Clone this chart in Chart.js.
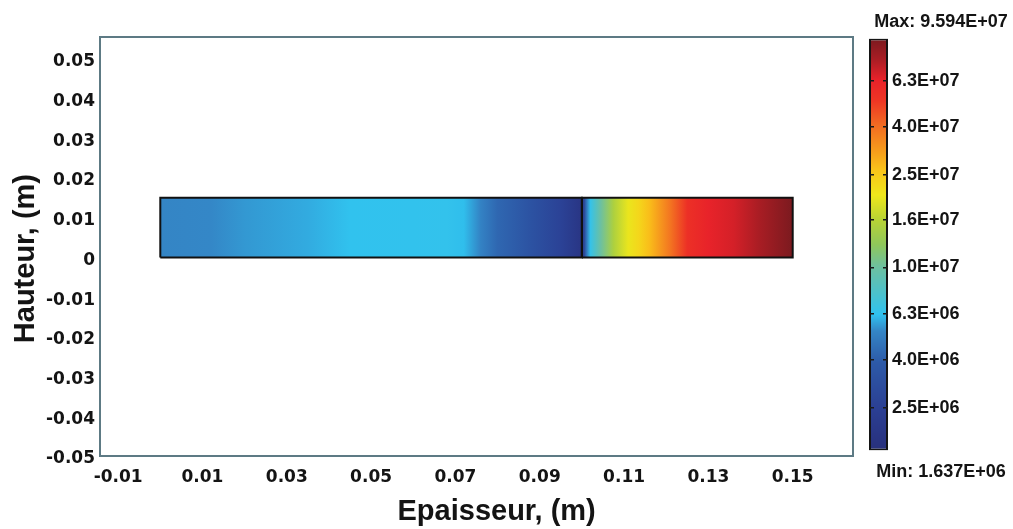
<!DOCTYPE html>
<html>
<head>
<meta charset="utf-8">
<script src="https://cdn.jsdelivr.net/npm/chart.js@4.4.1/dist/chart.umd.min.js"></script>
<style>
  html, body { margin: 0; padding: 0; background: #ffffff; }
  #wrap { position: relative; width: 1013px; height: 529px; }
  #fieldBox { position: absolute; left: 0; top: 0; }
  #scaleBox { position: absolute; left: 861px; top: 0; }
</style>
</head>
<body>
<div id="wrap">
  <div id="fieldBox"><canvas id="fieldChart" width="1013" height="529"></canvas></div>
  <div id="scaleBox"><canvas id="scaleChart" width="152" height="529"></canvas></div>
</div>
<script>
// ─── Données ─────────────────────────────────────────────────────────────────

const xTicks = [-0.01, 0.01, 0.03, 0.05, 0.07, 0.09, 0.11, 0.13, 0.15];
const yTicks = [-0.05, -0.04, -0.03, -0.02, -0.01, 0, 0.01, 0.02, 0.03, 0.04, 0.05];
const xRange = [-0.0143, 0.1643];
const yRange = [-0.05, 0.0555];

// deux couches : 0 → 0.1 m et 0.1 → 0.15 m, hauteur 0.015 m
const layerBounds = [0, 0.1, 0.15];
const layerHeight = 0.015;

// valeurs du champ lues le long de l'épaisseur
const layer1X = [0, 0.012, 0.02, 0.035, 0.045, 0.06, 0.068, 0.072, 0.076, 0.08, 0.088, 0.095, 0.1];
const layer1V = [5.3e6, 5.35e6, 5.6e6, 5.9e6, 6.3e6, 6.35e6, 6.4e6, 6.2e6, 5.2e6, 4.3e6, 3.4e6, 2.6e6, 1.9e6];
const layer2X = [0.1, 0.1006, 0.1012, 0.102, 0.1045, 0.1075, 0.111, 0.1135, 0.116, 0.121, 0.125, 0.13, 0.136, 0.142, 0.15];
const layer2V = [1.9e6, 3.0e6, 5.0e6, 6.5e6, 1.0e7, 1.5e7, 2.0e7, 2.3e7, 2.7e7, 3.9e7, 5.5e7, 6.3e7, 6.8e7, 7.8e7, 9.594e7];

// échelle de couleur (logarithmique)
const scaleTicks = [2.5e6, 4.0e6, 6.3e6, 1.0e7, 1.6e7, 2.5e7, 4.0e7, 6.3e7];
const scaleMin = 1.637e6;
const scaleMax = 9.594e7;

// ─── Styles ──────────────────────────────────────────────────────────────────

const CMAP = [
  [0,     '#28307c'], [0.1,  '#2b3f93'], [0.214, '#2d5aa8'], [0.29, '#3486c6'],
  [0.33,  '#30c2ef'], [0.445,'#6dc0a0'], [0.5,   '#8fc75a'], [0.56, '#b8d335'],
  [0.62,  '#efe71b'], [0.68, '#f9c41a'], [0.72,  '#f7a21b'], [0.79, '#f26b22'],
  [0.85,  '#ee3524'], [0.9,  '#e8222a'], [0.95,  '#a81d24'], [1,    '#7b1a1f'],
];
const AXIS_COLOR = '#5d7a84';
const TEXT_COLOR = '#141414';
const TICK_FONT  = { family: 'DejaVu Sans', size: 17, weight: 'bold' };
const TITLE_FONT = { family: 'Liberation Sans', size: 29, weight: 'bold' };
const SCALE_FONT = { family: 'Liberation Sans', size: 18, weight: 'bold' };

// ─── Helpers ─────────────────────────────────────────────────────────────────

function hexRgb(h) {
  const n = parseInt(h.slice(1), 16);
  return [(n >> 16) & 255, (n >> 8) & 255, n & 255];
}

function cmapColor(t) {
  t = Math.max(0, Math.min(1, t));
  for (let i = 1; i < CMAP.length; i++) {
    if (t <= CMAP[i][0]) {
      const [t0, c0] = CMAP[i - 1], [t1, c1] = CMAP[i];
      const f = (t - t0) / (t1 - t0);
      const a = hexRgb(c0), b = hexRgb(c1);
      const rgb = a.map((v, k) => Math.round(v + (b[k] - v) * f));
      return `rgb(${rgb.join(',')})`;
    }
  }
  return CMAP[CMAP.length - 1][1];
}

function valueToT(v) {
  const lo = Math.log10(scaleMin), hi = Math.log10(scaleMax);
  return (Math.log10(v) - lo) / (hi - lo);
}

function fmtE(v, d) {
  const [m, e] = v.toExponential(d).split('e');
  const n = parseInt(e, 10);
  return m + 'E' + (n < 0 ? '-' : '+') + String(Math.abs(n)).padStart(2, '0');
}

function layerFill(xs, vs) {
  return ctx => {
    const chart = ctx.chart;
    if (!chart.chartArea) return 'rgba(0,0,0,0)';
    const sx = chart.scales.x;
    const a = xs[0], b = xs[xs.length - 1];
    const g = chart.ctx.createLinearGradient(sx.getPixelForValue(a), 0, sx.getPixelForValue(b), 0);
    xs.forEach((x, k) => g.addColorStop((x - a) / (b - a), cmapColor(valueToT(vs[k]))));
    return g;
  };
}

function scaleFill(ctx) {
  const chart = ctx.chart;
  if (!chart.chartArea) return '#888888';
  const sy = chart.scales.y;
  const g = chart.ctx.createLinearGradient(0, sy.getPixelForValue(scaleMin), 0, sy.getPixelForValue(scaleMax));
  CMAP.forEach(([t, c]) => g.addColorStop(t, c));
  return g;
}

function rectPoints(x0, x1) {
  return [
    { x: x0, y: 0 }, { x: x0, y: layerHeight }, { x: x1, y: layerHeight },
    { x: x1, y: 0 }, { x: x0, y: 0 },
  ];
}

// ─── Graphique principal ─────────────────────────────────────────────────────

const profiles = [[layer1X, layer1V], [layer2X, layer2V]];

const outlineSets = layerBounds.slice(0, -1).map((x0, i) => ({
  type: 'line',
  data: rectPoints(x0, layerBounds[i + 1]),
  borderColor: '#111111',
  borderWidth: 2,
  borderJoinStyle: 'miter',
  pointRadius: 0,
  fill: false,
  showLine: true,
}));

const fillSets = layerBounds.slice(0, -1).map((x0, i) => ({
  type: 'line',
  data: [{ x: x0, y: layerHeight }, { x: layerBounds[i + 1], y: layerHeight }],
  borderWidth: 0,
  pointRadius: 0,
  showLine: true,
  fill: { value: 0 },
  backgroundColor: layerFill(profiles[i][0], profiles[i][1]),
}));

new Chart(document.getElementById('fieldChart'), {
  type: 'scatter',
  data: { datasets: [...outlineSets, ...fillSets] },
  options: {
    responsive: false,
    animation: false,
    layout: { padding: { top: 37, right: 160, left: 0, bottom: 0 } },
    plugins: { legend: { display: false }, tooltip: { enabled: false } },
    scales: {
      x: {
        type: 'linear',
        position: 'bottom',
        min: xRange[0],
        max: xRange[1],
        afterBuildTicks: s => { s.ticks = xTicks.map(v => ({ value: v })); },
        afterFit: s => { s.height = 73; },
        ticks: {
          callback: v => v.toFixed(2),
          font: TICK_FONT,
          color: TEXT_COLOR,
          padding: 11,
          maxRotation: 0,
          autoSkip: false,
        },
        grid: { display: false, drawTicks: false },
        border: { display: true, color: AXIS_COLOR, width: 2 },
        title: {
          display: true,
          text: '     Epaisseur, (m)',
          font: TITLE_FONT,
          color: TEXT_COLOR,
          padding: 0,
        },
      },
      y: {
        type: 'linear',
        position: 'left',
        min: yRange[0],
        max: yRange[1],
        afterBuildTicks: s => { s.ticks = yTicks.map(v => ({ value: v })); },
        afterFit: s => { s.width = 100; },
        ticks: {
          callback: v => (v === 0 ? '0' : v.toFixed(2)),
          font: TICK_FONT,
          color: TEXT_COLOR,
          padding: 5,
          labelOffset: 3,
          autoSkip: false,
        },
        grid: { display: false, drawTicks: false },
        border: { display: true, color: AXIS_COLOR, width: 2 },
        title: {
          display: true,
          text: 'Hauteur, (m)   ',
          font: TITLE_FONT,
          color: TEXT_COLOR,
          padding: { top: 9, bottom: 0 },
        },
      },
      xTop: {
        type: 'linear',
        position: 'top',
        min: xRange[0],
        max: xRange[1],
        afterFit: s => { s.height = 0; },
        ticks: { display: false },
        grid: { display: false, drawTicks: false },
        border: { display: true, color: AXIS_COLOR, width: 2 },
      },
      yRight: {
        type: 'linear',
        position: 'right',
        min: yRange[0],
        max: yRange[1],
        afterFit: s => { s.width = 0; },
        ticks: { display: false },
        grid: { display: false, drawTicks: false },
        border: { display: true, color: AXIS_COLOR, width: 2 },
      },
    },
  },
});

// ─── Barre de couleur ────────────────────────────────────────────────────────

new Chart(document.getElementById('scaleChart'), {
  type: 'bar',
  data: {
    labels: ['champ'],
    datasets: [{
      data: [[scaleMin, scaleMax]],
      backgroundColor: scaleFill,
      borderColor: '#141414',
      borderWidth: 2,
      borderSkipped: false,
      inflateAmount: 0,
      barPercentage: 1,
      categoryPercentage: 1,
    }],
  },
  options: {
    responsive: false,
    animation: false,
    layout: { padding: { left: 8, right: 0, top: 0, bottom: 0 } },
    plugins: {
      legend: { display: false },
      tooltip: { enabled: false },
      title: {
        display: true,
        text: 'Max: ' + fmtE(scaleMax, 3),
        font: SCALE_FONT,
        color: TEXT_COLOR,
        padding: { top: 11, bottom: 6 },
      },
      subtitle: {
        display: true,
        position: 'bottom',
        text: 'Min: ' + fmtE(scaleMin, 3),
        font: SCALE_FONT,
        color: TEXT_COLOR,
        padding: { top: 11, bottom: 46 },
      },
    },
    scales: {
      x: { display: false },
      y: {
        type: 'logarithmic',
        position: 'right',
        min: scaleMin,
        max: scaleMax,
        afterBuildTicks: s => { s.ticks = scaleTicks.map(v => ({ value: v })); },
        afterFit: s => { s.width = 125; },
        ticks: {
          callback: v => fmtE(v, 1),
          font: SCALE_FONT,
          color: TEXT_COLOR,
          padding: 4,
          autoSkip: false,
        },
        grid: { drawTicks: false, color: '#1a1a1a', lineWidth: 1.5, z: 1 },
        border: { display: false, dash: [5, 9] },
      },
    },
  },
});
</script>
</body>
</html>
